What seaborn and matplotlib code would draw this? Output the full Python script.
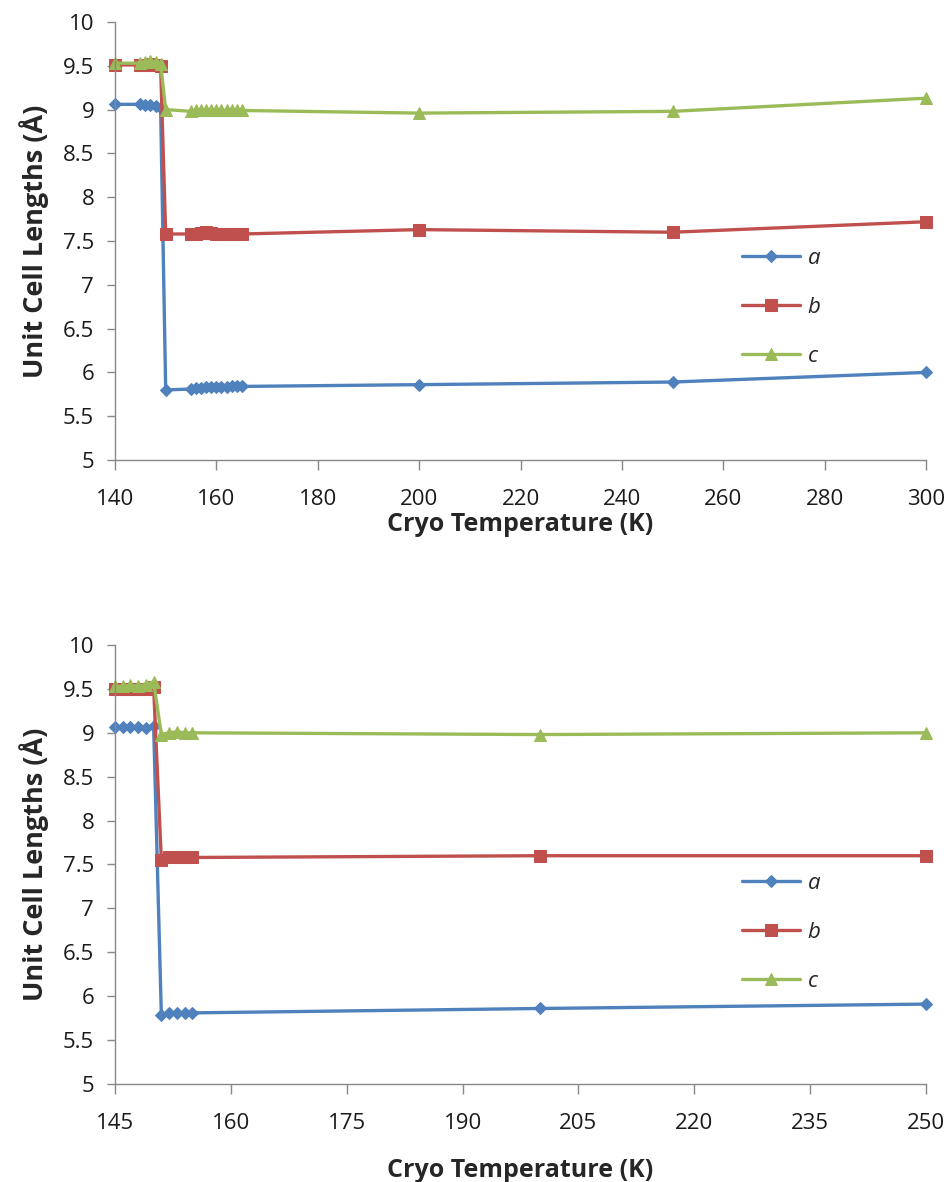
import numpy as np
import pandas as pd
import matplotlib
matplotlib.use("Agg")
import matplotlib.pyplot as plt
import seaborn as sns

# --- top panel data ---
temp_top = [140, 145, 146, 147, 148, 149, 150, 155, 156, 157, 158, 159, 160, 161, 162, 163, 164, 165, 200, 250, 300]
a_top = [9.06, 9.06, 9.05, 9.05, 9.04, 9.02, 5.80, 5.81, 5.82, 5.82, 5.83, 5.83, 5.83, 5.83, 5.83, 5.84, 5.84, 5.84, 5.86, 5.89, 6.00]
b_top = [9.51, 9.51, 9.51, 9.52, 9.51, 9.50, 7.58, 7.58, 7.58, 7.59, 7.60, 7.59, 7.58, 7.58, 7.58, 7.58, 7.58, 7.58, 7.63, 7.60, 7.72]
c_top = [9.53, 9.53, 9.54, 9.55, 9.54, 9.52, 9.00, 8.98, 8.99, 8.99, 8.99, 8.99, 8.99, 8.99, 8.99, 8.99, 8.99, 8.99, 8.96, 8.98, 9.13]

# --- bottom panel data ---
temp_bot = [145, 146, 147, 148, 149, 150, 151, 152, 153, 154, 155, 200, 250]
a_bot = [9.07, 9.07, 9.07, 9.07, 9.06, 9.08, 5.79, 5.81, 5.81, 5.81, 5.81, 5.86, 5.91]
b_bot = [9.50, 9.50, 9.50, 9.50, 9.50, 9.52, 7.55, 7.58, 7.58, 7.58, 7.58, 7.60, 7.60]
c_bot = [9.53, 9.53, 9.54, 9.53, 9.55, 9.58, 8.98, 9.00, 9.01, 9.00, 9.00, 8.98, 9.00]

series_names = ["a", "b", "c"]
colors = {"a": "#4F81BD", "b": "#C0504D", "c": "#9BBB59"}
markers = {"a": "D", "b": "s", "c": "^"}
msize = {"a": 6.5, "b": 8, "c": 8}
ytick_labels = ["5", "5.5", "6", "6.5", "7", "7.5", "8", "8.5", "9", "9.5", "10"]

sns.set_theme(style="white")
plt.rcParams["font.family"] = ["Open Sans", "DejaVu Sans"]


def to_long(temp, a, b, c):
    frames = []
    for name, vals in zip(series_names, [a, b, c]):
        frames.append(pd.DataFrame({"T": temp, "L": vals, "s": name}))
    return pd.concat(frames, ignore_index=True)


fig = plt.figure(figsize=(9.52, 11.82), dpi=100)
W, H = 952, 1182
ax1 = fig.add_axes([115 / W, 1 - 460 / H, 811 / W, 438 / H])
ax2 = fig.add_axes([115 / W, 1 - 1084 / H, 811 / W, 439 / H])

panels = [
    (ax1, to_long(temp_top, a_top, b_top, c_top), (140, 300), np.arange(140, 301, 20), (722, 228), 1),
    (ax2, to_long(temp_bot, a_bot, b_bot, c_bot), (145, 250), np.arange(145, 251, 15), (722, 853), 17),
]

for ax, df, xlim, xticks, legpos, xpad in panels:
    for name in series_names:
        sub = df[df["s"] == name]
        sns.lineplot(data=sub, x="T", y="L", ax=ax, color=colors[name],
                     marker=markers[name], markersize=msize[name],
                     markeredgecolor=colors[name], linewidth=2.4,
                     label=name, sort=False, clip_on=False)
    ax.set_xlim(*xlim)
    ax.set_ylim(5, 10)
    ax.set_xticks(xticks)
    ax.set_yticks(np.arange(5, 10.01, 0.5))
    ax.set_yticklabels(ytick_labels)
    ax.tick_params(axis="both", labelsize=16, labelcolor="#1a1a1a", color="#888888",
                   width=1, direction="out", left=True, bottom=True)
    ax.tick_params(axis="x", length=7, pad=14)
    ax.tick_params(axis="y", length=6, pad=9)
    for side in ["top", "right"]:
        ax.spines[side].set_visible(False)
    for side in ["left", "bottom"]:
        ax.spines[side].set_color("#888888")
        ax.spines[side].set_linewidth(1)
    ax.set_xlabel("Cryo Temperature (K)", fontsize=18, fontweight="bold", labelpad=xpad)
    ax.set_ylabel("Unit Cell Lengths (\u00c5)", fontsize=19.5, fontweight="bold", labelpad=10)
    leg = ax.legend(loc="upper left", frameon=False, fontsize=16,
                    bbox_to_anchor=(legpos[0] / W, 1 - legpos[1] / H),
                    bbox_transform=fig.transFigure,
                    labelspacing=1.25, handlelength=2.6, handletextpad=0.35)
    for t in leg.get_texts():
        t.set_fontstyle("italic")

fig.savefig("out.png", dpi=100)
